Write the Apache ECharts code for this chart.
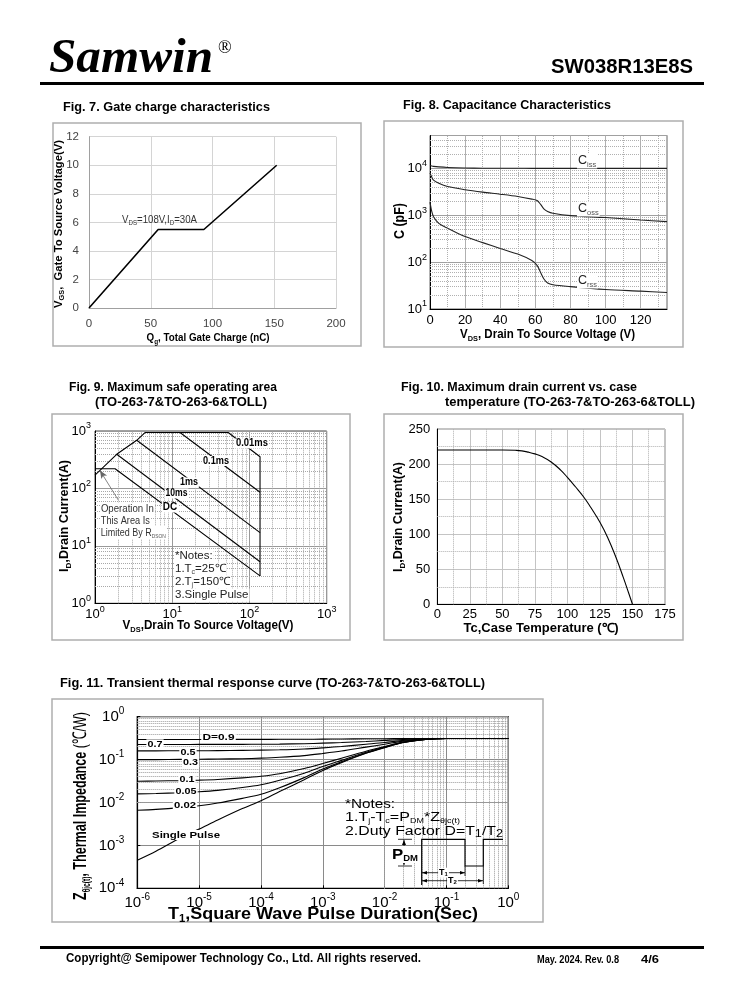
<!DOCTYPE html>
<html><head><meta charset="utf-8">
<script src="https://cdn.jsdelivr.net/npm/echarts@6/dist/echarts.min.js"></script>
<style>html,body{margin:0;padding:0;background:#fff}#c{width:738px;height:1000px}</style>
</head><body><div id="c"></div>
<script>
// ---------- DATA ----------
// Fig 7 gate charge
const qgCharge = [0, 56, 93, 152];
const vgsVolt = [0, 5.5, 5.5, 10];
// Fig 8 capacitance
const vdsCap = [0, 1, 2, 5, 10, 20, 30, 40, 50, 58, 61, 63, 65, 67, 70, 80, 100, 120, 135];
const cissPF = [11500, 11200, 11000, 10700, 10400, 10150, 10050, 10000, 10000, 9980, 9970, 9960, 9950, 9950, 9950, 9950, 9950, 9950, 9950];
const cossPF = [8000, 6500, 5600, 4800, 4100, 3500, 3100, 2800, 2500, 2200, 2050, 1700, 1350, 1200, 1100, 980, 890, 790, 730];
const crssPF = [1900, 1200, 930, 670, 530, 350, 260, 195, 148, 108, 85, 60, 43, 36, 33, 30, 26, 24, 22.5];
// Fig 9 SOA
const limV = [1, 1.91, 3.47, 4.44, 53, 137, 137];
const limI = [170, 393, 689, 940, 940, 357, 3.0];
const soa01msV = [12.6, 137], soa01msI = [940, 86];
const soa1msV = [3.47, 137], soa1msI = [689, 17];
const soa10msV = [1.91, 137], soa10msI = [393, 5.3];
const soaDcV = [1, 1.82, 137], soaDcI = [220, 220, 3.0];
// Fig 10 drain current vs case temperature
const caseTemp = [0, 25, 50, 60, 65, 70, 75, 80, 87.5, 95, 100, 106, 112.5, 118, 125, 131, 137.5, 143, 147, 150];
const drainCur = [220, 220, 220, 219.6, 218.8, 217, 214.5, 211, 203, 191, 181, 168, 153, 138, 117, 95, 66, 38, 16.5, 0];
// Fig 11 transient thermal impedance
const pulseT = [1e-6, 2e-6, 5e-6, 1e-5, 2e-5, 5e-5, 1e-4, 2e-4, 5e-4, 1e-3, 2e-3, 5e-3, 1e-2, 2e-2, 5e-2, 1e-1, 1];
const zSingle = [4.5e-4, 7.3e-4, 1.5e-3, 2.4e-3, 3.9e-3, 7.2e-3, 0.011, 0.018, 0.034, 0.056, 0.085, 0.14, 0.19, 0.25, 0.30, 0.31, 0.31];
const zD002 = [0.0066, 0.0069, 0.0076, 0.0084, 0.0097, 0.0125, 0.0155, 0.022, 0.038, 0.060, 0.089, 0.142, 0.192, 0.251, 0.30, 0.31, 0.31];
const zD005 = [0.0159, 0.0162, 0.0169, 0.0178, 0.0192, 0.0223, 0.026, 0.033, 0.048, 0.069, 0.096, 0.148, 0.196, 0.253, 0.30, 0.31, 0.31];
const zD01 = [0.0314, 0.0317, 0.0324, 0.0332, 0.0345, 0.0375, 0.041, 0.047, 0.062, 0.081, 0.108, 0.157, 0.202, 0.256, 0.30, 0.31, 0.31];
const zD03 = [0.100, 0.100, 0.101, 0.102, 0.103, 0.105, 0.108, 0.113, 0.124, 0.139, 0.158, 0.195, 0.228, 0.270, 0.305, 0.31, 0.31];
const zD05 = [0.160, 0.160, 0.161, 0.161, 0.162, 0.164, 0.166, 0.169, 0.177, 0.188, 0.202, 0.228, 0.25, 0.28, 0.305, 0.31, 0.31];
const zD07 = [0.225, 0.225, 0.225, 0.226, 0.226, 0.227, 0.228, 0.23, 0.235, 0.242, 0.25, 0.265, 0.28, 0.295, 0.308, 0.31, 0.31];
const zD09 = [0.295, 0.295, 0.295, 0.295, 0.295, 0.296, 0.296, 0.297, 0.298, 0.30, 0.302, 0.305, 0.307, 0.309, 0.31, 0.31, 0.31];

// ---------- HELPERS ----------
const FF = '"Liberation Sans", Arial, Helvetica, sans-serif';
const zip = (a, b) => a.map((x, i) => [x, b[i]]);
const cv = document.createElement('canvas').getContext('2d');
function tk(size, weight, extra) {
  return Object.assign({ fontSize: size, fontWeight: weight || 'normal', fontFamily: FF, fill: '#000', color: '#000' }, extra || {});
}
function measure(parts, rich) {
  let w = 0;
  parts.forEach(([t, k]) => {
    const s = rich[k];
    cv.font = (s.fontStyle || 'normal') + ' ' + (s.fontWeight || 'normal') + ' ' + s.fontSize + 'px ' + (s.fontFamily || FF);
    w += cv.measureText(t).width;
  });
  return w;
}
function rt(x, y, parts, rich, o) {
  o = o || {};
  const text = parts.map(([t, k]) => '{' + k + '|' + t + '}').join('');
  let sx = 1;
  if (o.w) sx = o.w / measure(parts, rich);
  const st = { text, rich, align: o.align || 'left', verticalAlign: o.va || 'middle', textAlign: o.align || 'left', textVerticalAlign: o.va || 'middle' };
  if (o.bg) { st.backgroundColor = o.bg; st.padding = o.pad || [0, 1]; }
  return { type: 'text', x, y, rotation: o.rot || 0, scaleX: sx, z: 100, silent: true, style: st };
}
function line(pts, w, color) {
  return { type: 'polyline', z: 100, silent: true, shape: { points: pts }, style: { stroke: color || '#000', lineWidth: w || 1, fill: null } };
}
function tri(pts) {
  return { type: 'polygon', z: 100, silent: true, shape: { points: pts }, style: { fill: '#000' } };
}
function box(x, y, w, h) {
  return { type: 'rect', z: 0, silent: true, shape: { x, y, width: w, height: h }, style: { stroke: '#aeaeae', lineWidth: 1.5, fill: null } };
}
function logMinors(lo, hi) {
  const out = [];
  for (let d = lo; d < hi * 0.999; d *= 10) for (let k = 2; k <= 9; k++) { const v = +(d * k).toPrecision(6); if (v < hi) out.push(v); }
  return out;
}
function decor(i, xs, ys, style) {
  return { type: 'line', xAxisIndex: i, yAxisIndex: i, data: [], silent: true, z: 1,
    markLine: { silent: true, z: 1, animation: false, symbol: ['none', 'none'], label: { show: false }, lineStyle: style,
      emphasis: { disabled: true }, data: xs.map(v => ({ xAxis: v })).concat(ys.map(v => ({ yAxis: v }))) } };
}
function curve(i, data, o) {
  o = o || {};
  return { type: 'line', xAxisIndex: i, yAxisIndex: i, data, symbol: 'none', showSymbol: false, z: 3, silent: true,
    smooth: o.smooth || false, lineStyle: { color: o.color || '#000', width: o.w || 1.1 }, animation: false };
}
function supFmt(v) {
  const e = Math.log10(v), r = Math.round(e);
  if (Math.abs(e - r) > 1e-3) return '';
  return '{b|10}{s|' + r + '}';
}
const richAx = (b, s) => ({ b: { fontSize: b, color: '#000', fontFamily: FF, lineHeight: b + 6 }, s: { fontSize: s, color: '#000', fontFamily: FF, verticalAlign: 'top', lineHeight: s + 1 } });

// ---------- CHART ----------
const chart = echarts.init(document.getElementById('c'), null, { renderer: 'canvas', width: 738, height: 1000 });

const grids = [
  { left: 89, top: 136.7, width: 247, height: 171.3 },
  { left: 430, top: 135.5, width: 237, height: 173.5, show: true, borderColor: '#666', borderWidth: 1 },
  { left: 95, top: 431, width: 231.7, height: 172.3, show: true, borderColor: '#444', borderWidth: 1 },
  { left: 437.3, top: 429, width: 227.7, height: 175.3, show: true, borderColor: '#888', borderWidth: 1 },
  { left: 137.3, top: 716.7, width: 371, height: 171.6, show: true, borderColor: '#000', borderWidth: 1.2 }
];

const xAxes = [
  { gridIndex: 0, type: 'value', min: 0, max: 200, interval: 50,
    axisLine: { show: true, lineStyle: { color: '#a0a0a0' } }, axisTick: { show: false },
    splitLine: { show: true, lineStyle: { color: '#d4d4d4' } },
    axisLabel: { color: '#444', fontSize: 11.5, fontFamily: FF, margin: 10 } },
  { gridIndex: 1, type: 'value', min: 0, max: 135, interval: 20,
    axisLine: { show: true, lineStyle: { color: '#000' } }, axisTick: { show: false },
    splitLine: { show: true, lineStyle: { color: '#b0b0b0' } },
    axisLabel: { color: '#000', fontSize: 13, fontFamily: FF, margin: 5, formatter: v => (v % 20 === 0 ? String(v) : '') } },
  { gridIndex: 2, type: 'log', logBase: 10, min: 1, max: 1000,
    axisLine: { show: true, lineStyle: { color: '#000' } }, axisTick: { show: false },
    splitLine: { show: true, lineStyle: { color: '#999' } },
    axisLabel: { formatter: supFmt, rich: richAx(13, 9), margin: 2 } },
  { gridIndex: 3, type: 'value', min: 0, max: 175, interval: 25,
    axisLine: { show: true, lineStyle: { color: '#000' } }, axisTick: { show: false },
    splitLine: { show: true, lineStyle: { color: '#c4c4c4' } },
    axisLabel: { color: '#000', fontSize: 13, fontFamily: FF, margin: 4 } },
  { gridIndex: 4, type: 'log', logBase: 10, min: 1e-6, max: 1,
    axisLine: { show: true, lineStyle: { color: '#000', width: 1.2 } }, axisTick: { show: true, length: 3, inside: true, lineStyle: { color: '#000' } },
    splitLine: { show: true, lineStyle: { color: '#8a8a8a' } },
    axisLabel: { formatter: supFmt, rich: richAx(15, 10), margin: 4 } }
];
const yAxes = [
  { gridIndex: 0, type: 'value', min: 0, max: 12, interval: 2,
    axisLine: { show: true, lineStyle: { color: '#a0a0a0' } }, axisTick: { show: false },
    splitLine: { show: true, lineStyle: { color: '#d4d4d4' } },
    axisLabel: { color: '#444', fontSize: 11.5, fontFamily: FF, margin: 10 } },
  { gridIndex: 1, type: 'log', logBase: 10, min: 10, max: 50000,
    axisLine: { show: true, lineStyle: { color: '#000' } }, axisTick: { show: false },
    splitLine: { show: true, lineStyle: { color: '#a0a0a0' } },
    axisLabel: { formatter: supFmt, rich: richAx(13, 9), margin: 3 } },
  { gridIndex: 2, type: 'log', logBase: 10, min: 1, max: 1000,
    axisLine: { show: true, lineStyle: { color: '#000' } }, axisTick: { show: false },
    splitLine: { show: true, lineStyle: { color: '#999' } },
    axisLabel: { formatter: supFmt, rich: richAx(13, 9), margin: 4 } },
  { gridIndex: 3, type: 'value', min: 0, max: 250, interval: 50,
    axisLine: { show: true, lineStyle: { color: '#000' } }, axisTick: { show: false },
    splitLine: { show: true, lineStyle: { color: '#c4c4c4' } },
    axisLabel: { color: '#000', fontSize: 13, fontFamily: FF, margin: 7 } },
  { gridIndex: 4, type: 'log', logBase: 10, min: 1e-4, max: 1,
    axisLine: { show: true, lineStyle: { color: '#000', width: 1.2 } }, axisTick: { show: true, length: 3, inside: true, lineStyle: { color: '#000' } },
    splitLine: { show: true, lineStyle: { color: '#8a8a8a' } },
    axisLabel: { formatter: supFmt, rich: richAx(15, 10), margin: 13 } }
];

const dotted = c => ({ color: c, type: 'dotted', width: 1 });
const fig8Xminor = [10, 30, 50, 70, 90, 110, 130];
const fig10Xminor = [12.5, 37.5, 62.5, 87.5, 112.5, 137.5, 162.5];
const fig10Yminor = [25, 75, 125, 175, 225];

const series = [
  // Fig 7
  curve(0, zip(qgCharge, vgsVolt), { w: 1.6 }),
  // Fig 8
  decor(1, fig8Xminor, logMinors(10, 50000), dotted('#b0b0b0')),
  curve(1, zip(vdsCap, cissPF), { smooth: 0.3, color: '#222' }),
  curve(1, zip(vdsCap, cossPF), { smooth: 0.3, color: '#222' }),
  curve(1, zip(vdsCap, crssPF), { smooth: 0.3, color: '#222' }),
  // Fig 9
  decor(2, logMinors(1, 1000), logMinors(1, 1000), dotted('#a8a8a8')),
  curve(2, zip(limV, limI)),
  curve(2, zip(soa01msV, soa01msI)),
  curve(2, zip(soa1msV, soa1msI)),
  curve(2, zip(soa10msV, soa10msI)),
  curve(2, zip(soaDcV, soaDcI)),
  { type: 'line', xAxisIndex: 2, yAxisIndex: 2, data: [], silent: true, z: 4,
    markLine: { silent: true, animation: false, symbol: ['arrow', 'none'], symbolSize: [5, 8], label: { show: false },
      lineStyle: { color: '#666', width: 0.8, type: 'solid' }, emphasis: { disabled: true },
      data: [[{ coord: [1.16, 205] }, { coord: [2.0, 63] }]] } },
  // Fig 10
  decor(3, fig10Xminor, fig10Yminor, dotted('#b0b0b0')),
  curve(3, zip(caseTemp, drainCur), { smooth: 0.5 }),
  // Fig 11
  decor(4, logMinors(1e-6, 1), logMinors(1e-4, 1), dotted('#9a9a9a')),
  curve(4, zip(pulseT, zSingle), { smooth: 0.3 }),
  curve(4, zip(pulseT, zD002), { smooth: 0.3 }),
  curve(4, zip(pulseT, zD005), { smooth: 0.3 }),
  curve(4, zip(pulseT, zD01), { smooth: 0.3 }),
  curve(4, zip(pulseT, zD03), { smooth: 0.3 }),
  curve(4, zip(pulseT, zD05), { smooth: 0.3 }),
  curve(4, zip(pulseT, zD07), { smooth: 0.3 }),
  curve(4, zip(pulseT, zD09), { smooth: 0.3 })
];

// ---------- TEXT / DECORATION ----------
const B = (s) => tk(s, 'bold');
const G = [];
// header / footer
G.push({ type: 'rect', z: 0, silent: true, shape: { x: 40, y: 82, width: 664, height: 3 }, style: { fill: '#000' } });
G.push({ type: 'rect', z: 0, silent: true, shape: { x: 40, y: 946, width: 664, height: 3 }, style: { fill: '#000' } });
G.push(rt(49, 60, [['Samwin', 'a']], { a: { fontSize: 48, fontWeight: 'bold', fontStyle: 'italic', fontFamily: '"Liberation Serif", "Times New Roman", serif', fill: '#000' } }, { w: 164 }));
G.push(rt(218, 48, [['®', 'a']], { a: { fontSize: 18, fontFamily: '"Liberation Serif", serif', fill: '#000' } }));
G.push(rt(693, 67, [['SW038R13E8S', 'a']], { a: B(20) }, { align: 'right', w: 142 }));
G.push(rt(66, 959, [['Copyright@ Semipower Technology Co., Ltd. All rights reserved.', 'a']], { a: B(12) }, { w: 355 }));
G.push(rt(537, 960, [['May. 2024. Rev. 0.8', 'a']], { a: B(10.5) }, { w: 82 }));
G.push(rt(641, 960, [['4/6', 'a']], { a: B(10.5) }, { w: 18 }));
// boxes
G.push(box(53, 123, 308, 223), box(384, 121, 299, 226), box(52, 414, 298, 226), box(384, 414, 299, 226), box(52, 699, 491, 223));
// titles
G.push(rt(63, 107.5, [['Fig. 7. Gate charge characteristics', 'a']], { a: B(13) }, { w: 207 }));
G.push(rt(403, 105, [['Fig. 8. Capacitance Characteristics', 'a']], { a: B(13) }, { w: 208 }));
G.push(rt(69, 387.5, [['Fig. 9. Maximum safe operating area', 'a']], { a: B(13) }, { w: 208 }));
G.push(rt(95, 402.5, [['(TO-263-7&TO-263-6&TOLL)', 'a']], { a: B(13) }, { w: 172 }));
G.push(rt(401, 387.5, [['Fig. 10. Maximum drain current vs. case', 'a']], { a: B(13) }, { w: 236 }));
G.push(rt(445, 402, [['temperature (TO-263-7&TO-263-6&TOLL)', 'a']], { a: B(13) }, { w: 250 }));
G.push(rt(60, 683.5, [['Fig. 11. Transient thermal response curve (TO-263-7&TO-263-6&TOLL)', 'a']], { a: B(13) }, { w: 425 }));

// Fig 7 texts
const r7 = { s: tk(7.5, 'bold', { verticalAlign: 'bottom', lineHeight: 9 }), M: tk(11.5, 'bold', { lineHeight: 15 }) };
G.push(rt(58.5, 224, [['V', 'M'], ['GS', 's'], [',  Gate To Source Voltage(V)', 'M']], r7, { rot: Math.PI / 2, align: 'center', w: 168 }));
G.push(rt(208, 338, [['Q', 'M'], ['g', 's'], [', Total Gate Charge (nC)', 'M']], r7, { align: 'center', w: 123 }));
const r7a = { m: tk(11, 'normal', { fill: '#333', lineHeight: 14 }), s: tk(7, 'normal', { fill: '#333', verticalAlign: 'bottom', lineHeight: 8 }) };
G.push(rt(122, 219.5, [['V', 'm'], ['DS', 's'], ['=108V,I', 'm'], ['D', 's'], ['=30A', 'm']], r7a, { w: 75 }));

// Fig 8 texts
G.push(rt(400, 221, [['C (pF)', 'a']], { a: B(15) }, { rot: Math.PI / 2, align: 'center', w: 36 }));
const r8 = { M: tk(12.5, 'bold', { lineHeight: 16 }), s: tk(8, 'bold', { verticalAlign: 'bottom', lineHeight: 9 }) };
G.push(rt(547.5, 334.5, [['V', 'M'], ['DS', 's'], [', Drain To Source Voltage (V)', 'M']], r8, { align: 'center', w: 175 }));
const r8c = { M: tk(12.5, 'normal', { fill: '#222', lineHeight: 15 }), s: tk(7.5, 'normal', { fill: '#555', verticalAlign: 'bottom', lineHeight: 8 }) };
G.push(rt(577, 161, [['C', 'M'], ['iss', 's']], r8c, { bg: '#fff' }));
G.push(rt(577, 209, [['C', 'M'], ['oss', 's']], r8c, { bg: '#fff' }));
G.push(rt(577, 281, [['C', 'M'], ['rss', 's']], r8c, { bg: '#fff' }));

// Fig 9 texts
const r9 = { M: tk(12.5, 'bold', { lineHeight: 16 }), s: tk(8, 'bold', { verticalAlign: 'bottom', lineHeight: 9 }) };
G.push(rt(65, 516, [['I', 'M'], ['D', 's'], [',Drain Current(A)', 'M']], r9, { rot: Math.PI / 2, align: 'center', w: 112 }));
G.push(rt(208, 626, [['V', 'M'], ['DS', 's'], [',Drain To Source Voltage(V)', 'M']], r9, { align: 'center', w: 171 }));
const lb9 = { a: B(10) };
G.push(rt(170, 507.5, [['DC', 'a']], lb9, { align: 'center', bg: '#fff' }));
G.push(rt(176.5, 493.5, [['10ms', 'a']], lb9, { align: 'center', bg: '#fff', w: 22 }));
G.push(rt(189, 482.5, [['1ms', 'a']], lb9, { align: 'center', bg: '#fff', w: 18 }));
G.push(rt(216, 461, [['0.1ms', 'a']], lb9, { align: 'center', bg: '#fff', w: 26 }));
G.push(rt(252, 443.5, [['0.01ms', 'a']], lb9, { align: 'center', bg: '#fff', w: 32 }));
const r9o = { m: tk(11, 'normal', { fill: '#333', lineHeight: 13 }), s: tk(6, 'normal', { fill: '#555', verticalAlign: 'bottom', lineHeight: 7 }) };
G.push(rt(100, 509, [['Operation In', 'm']], r9o, { bg: '#fff', w: 53 }));
G.push(rt(100, 521, [['This Area Is', 'm']], r9o, { bg: '#fff', w: 49 }));
G.push(rt(100, 532.5, [['Limited By R', 'm'], ['DSON', 's']], r9o, { bg: '#fff', w: 65 }));
const r9n = { m: tk(11.5, 'normal', { fill: '#222', lineHeight: 13 }), s: tk(7, 'normal', { fill: '#444', verticalAlign: 'bottom', lineHeight: 8 }) };
G.push(rt(174, 556, [['*Notes:', 'm']], r9n, { bg: '#fff' }));
G.push(rt(174, 569, [['1.T', 'm'], ['c', 's'], ['=25℃', 'm']], r9n, { bg: '#fff' }));
G.push(rt(174, 582, [['2.T', 'm'], ['j', 's'], ['=150℃', 'm']], r9n, { bg: '#fff' }));
G.push(rt(174, 595, [['3.Single Pulse', 'm']], r9n, { bg: '#fff' }));

// Fig 10 texts
G.push(rt(398.5, 517, [['I', 'M'], ['D', 's'], [',Drain Current(A)', 'M']], r9, { rot: Math.PI / 2, align: 'center', w: 110 }));
G.push(rt(541, 628.5, [['Tc,Case Temperature (℃)', 'M']], r9, { align: 'center', w: 155 }));

// Fig 11 texts
const r11y = { M: tk(19, 'bold', { lineHeight: 22 }), s: tk(10, 'bold', { verticalAlign: 'bottom', lineHeight: 10 }), R: tk(19, 'normal', { lineHeight: 22 }) };
G.push(rt(81, 806, [['Z', 'M'], ['θjc(t)', 's'], [', Thermal Impedance ', 'M'], ['(℃/W)', 'R']], r11y, { rot: Math.PI / 2, align: 'center', w: 188 }));
const r11x = { M: tk(16, 'bold', { lineHeight: 19 }), s: tk(10, 'bold', { verticalAlign: 'bottom', lineHeight: 10 }) };
G.push(rt(323, 914.5, [['T', 'M'], ['1', 's'], [',Square Wave Pulse Duration(Sec)', 'M']], r11x, { align: 'center', w: 310 }));
const lb11 = { a: B(9.5) };
G.push(rt(218.5, 737.7, [['D=0.9', 'a']], lb11, { align: 'center', bg: '#fff', w: 32 }));
G.push(rt(155, 744.3, [['0.7', 'a']], lb11, { align: 'center', bg: '#fff', w: 15 }));
G.push(rt(188, 752.3, [['0.5', 'a']], lb11, { align: 'center', bg: '#fff', w: 15 }));
G.push(rt(190.5, 762.3, [['0.3', 'a']], lb11, { align: 'center', bg: '#fff', w: 15 }));
G.push(rt(187, 779, [['0.1', 'a']], lb11, { align: 'center', bg: '#fff', w: 15 }));
G.push(rt(186, 791.7, [['0.05', 'a']], lb11, { align: 'center', bg: '#fff', w: 21 }));
G.push(rt(185, 805, [['0.02', 'a']], lb11, { align: 'center', bg: '#fff', w: 22 }));
G.push(rt(186, 835, [['Single Pulse', 'a']], lb11, { align: 'center', bg: '#fff', w: 68 }));
const r11n = { m: tk(12.5, 'normal', { lineHeight: 14 }), s: tk(7, 'normal', { verticalAlign: 'bottom', lineHeight: 8 }), t: tk(10, 'normal', { verticalAlign: 'bottom', lineHeight: 12 }) };
G.push(rt(345, 805, [['*Notes:', 'm']], r11n, { w: 50 }));
G.push(rt(345, 818, [['1.T', 'm'], ['j', 's'], ['-T', 'm'], ['c', 's'], ['=P', 'm'], ['DM', 's'], ['*Z', 'm'], ['θjc(t)', 's']], r11n, { w: 115 }));
G.push(rt(345, 832, [['2.Duty Factor D=T', 'm'], ['1', 't'], ['/T', 'm'], ['2', 't']], r11n, { w: 158 }));
// pulse diagram
G.push(line([[421.7, 885], [421.7, 839.3], [465, 839.3], [465, 866], [483.3, 866], [483.3, 839.3], [503, 839.3]], 1.2));
G.push(line([[465, 866], [465, 876]], 0.8), line([[483.3, 866], [483.3, 884]], 0.8));
G.push(line([[398, 839.3], [412, 839.3]], 0.8), line([[398, 866], [412, 866]], 0.8));
G.push(line([[404, 840], [404, 865]], 0.8), tri([[404, 840], [402, 845], [406, 845]]), tri([[404, 865], [402, 860], [406, 860]]));
G.push(line([[422, 872.7], [465, 872.7]], 0.8), tri([[422, 872.7], [427, 870.9], [427, 874.5]]), tri([[465, 872.7], [460, 870.9], [460, 874.5]]));
G.push(line([[422, 880.7], [483, 880.7]], 0.8), tri([[422, 880.7], [427, 878.9], [427, 882.5]]), tri([[483, 880.7], [478, 878.9], [478, 882.5]]));
const rP = { P: tk(15, 'bold', { lineHeight: 17 }), s: tk(8.5, 'bold', { verticalAlign: 'bottom', lineHeight: 10 }) };
G.push(rt(405, 854.5, [['P', 'P'], ['DM', 's']], rP, { align: 'center', bg: '#fff', w: 26 }));
const rT = { T: tk(9, 'bold', { lineHeight: 10 }), s: tk(6, 'bold', { verticalAlign: 'bottom', lineHeight: 7 }) };
G.push(rt(443.5, 872.7, [['T', 'T'], ['1', 's']], rT, { align: 'center', bg: '#fff' }));
G.push(rt(452.5, 880.7, [['T', 'T'], ['2', 's']], rT, { align: 'center', bg: '#fff' }));

chart.setOption({
  animation: false,
  backgroundColor: '#fff',
  grid: grids,
  xAxis: xAxes,
  yAxis: yAxes,
  series: series,
  graphic: { elements: G }
});
</script></body></html>
